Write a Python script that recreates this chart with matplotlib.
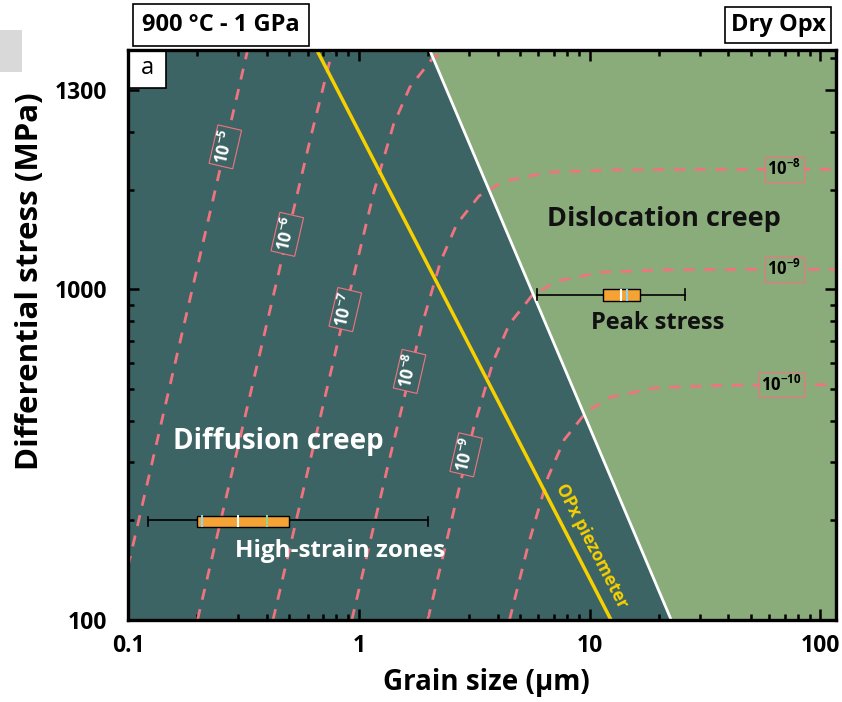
import matplotlib
matplotlib.use("Agg")
import matplotlib.pyplot as plt
from matplotlib.patches import Rectangle
from matplotlib.ticker import FixedLocator, LogLocator, NullFormatter, FixedFormatter

plt.rcParams['font.family'] = ['Open Sans', 'DejaVu Sans']
plt.rcParams['mathtext.fontset'] = 'custom'
plt.rcParams['mathtext.rm'] = 'Open Sans'
plt.rcParams['mathtext.it'] = 'Open Sans'
plt.rcParams['mathtext.bf'] = 'Open Sans:bold'

# colours
teal = '#3d6464'
green = '#8aab7a'
pink = '#f07480'
yellow = '#f7d000'
orange = '#f5a334'

# field boundary between diffusion and dislocation creep (grain size um, stress MPa)
bound_d = [2.03, 22.6]
bound_s = [5300, 100]

# OPx piezometer
piezo_d = [0.658, 12.4]
piezo_s = [5300, 100]

# strain-rate contours (s^-1)
c5_d = [0.1, 0.33]
c5_s = [145, 5300]
c6_d = [0.2, 0.46, 0.62, 0.77]
c6_s = [100, 1200, 2900, 5300]
c7_d = [0.425, 0.832, 1.165, 1.414, 1.664, 2.08, 2.38]
c7_s = [100, 747, 1980, 3150, 4090, 4980, 5300]
c8_d = [0.933, 1.33, 1.86, 2.26, 2.66, 3.32, 4.25, 6.64, 13.3, 120]
c8_s = [100, 288, 762, 1213, 1576, 1917, 2123, 2262, 2303, 2310]
c9_d = [1.99, 2.25, 3.14, 3.82, 4.49, 5.61, 7.18, 11.2, 22.4, 120]
c9_s = [100, 143, 380, 604, 785, 955, 1058, 1127, 1148, 1151]
c10_d = [4.5, 5.44, 6.6, 7.77, 9.71, 12.4, 19.4, 38.9, 120]
c10_s = [100, 170, 270, 351, 427, 473, 504, 513, 515]
contours = [(c5_d, c5_s), (c6_d, c6_s), (c7_d, c7_s),
            (c8_d, c8_s), (c9_d, c9_s), (c10_d, c10_s)]

# contour labels
diff_lab = [r'$\mathbf{10^{-5}}$', r'$\mathbf{10^{-6}}$', r'$\mathbf{10^{-7}}$',
            r'$\mathbf{10^{-8}}$', r'$\mathbf{10^{-9}}$']
diff_lab_d = [0.264, 0.49, 0.874, 1.66, 2.92]
diff_lab_s = [2700, 1468, 869, 565, 316]
disl_lab = [r'$\mathbf{10^{-8}}$', r'$\mathbf{10^{-9}}$', r'$\mathbf{10^{-10}}$']
disl_lab_d = [70, 70, 68]
disl_lab_s = [2310, 1151, 515]

# grain size / stress data (box + whiskers)
hsz_whisk = [0.122, 2.0]
hsz_box = [0.2, 0.5]
hsz_stress = [191, 200, 207]
hsz_marks = [0.21, 0.3, 0.4]
hsz_mark_col = ['#8fd3f0', 'white', '#9ad08a']

peak_whisk = [5.9, 26.0]
peak_box = [11.4, 16.5]
peak_stress = [925, 963, 1003]
peak_marks = [13.7, 14.5]
peak_mark_col = ['white', '#8fd3f0']

xmin, xmax = 0.1, 117
ymin, ymax = 100, 5300

fig = plt.figure(figsize=(8.42, 7.02), dpi=100)
ax = fig.add_axes([128/842, 1-620/702, 708/842, 570/702])
ax.set_xscale('log')
ax.set_yscale('log')
ax.set_xlim(xmin, xmax)
ax.set_ylim(ymin, ymax)
ax.set_facecolor(teal)

# dislocation creep field
ax.fill(bound_d + [xmax, xmax], bound_s + [ymin, ymax], color=green, lw=0, zorder=1)

for d, s in contours:
    ax.plot(d, s, color=pink, lw=2, ls=(0, (4, 3.5)), zorder=2)

ax.plot(bound_d, bound_s, color='white', lw=2, zorder=3)
ax.plot(piezo_d, piezo_s, color=yellow, lw=2.5, zorder=3)

for t, x, y in zip(diff_lab, diff_lab_d, diff_lab_s):
    ax.text(x, y, t, color='white', fontsize=12.5, rotation=77, ha='center', va='center',
            rotation_mode='anchor', zorder=4,
            bbox=dict(boxstyle='square,pad=0.12', fc=teal, ec=pink, lw=0.8))
for t, x, y in zip(disl_lab, disl_lab_d, disl_lab_s):
    ax.text(x, y, t, color='black', fontsize=12, ha='center', va='center', zorder=4,
            bbox=dict(boxstyle='square,pad=0.15', fc=green, ec=pink, lw=0.8))


def boxplot(whisk, box, st, marks, cols):
    ax.plot(whisk, [st[1], st[1]], color='black', lw=1.2, zorder=5)
    for w in whisk:
        ax.plot([w, w], [st[0] + 1.5, st[2] - 1.5], color='black', lw=1.2, zorder=5)
    ax.fill_between(box, st[0], st[2], color=orange, ec='black', lw=1, zorder=6)
    for m, c in zip(marks, cols):
        ax.plot([m, m], [st[0] * 1.005, st[2] / 1.005], color=c, lw=1.5, zorder=7)


boxplot(hsz_whisk, hsz_box, hsz_stress, hsz_marks, hsz_mark_col)
boxplot(peak_whisk, peak_box, peak_stress, peak_marks, peak_mark_col)

ax.text(21.1, 1630, 'Dislocation creep', fontsize=19.5, fontweight='bold',
        color='#111111', ha='center', va='center', zorder=8)
ax.text(19.7, 794, 'Peak stress', fontsize=17, fontweight='bold',
        color='#111111', ha='center', va='center', zorder=8)
ax.text(0.446, 346, 'Diffusion creep', fontsize=20, fontweight='bold',
        color='white', ha='center', va='center', zorder=8)
ax.text(0.827, 162, 'High-strain zones', fontsize=17.5, fontweight='bold',
        color='white', ha='center', va='center', zorder=8)
ax.text(10.2, 168, 'OPx piezometer', fontsize=12.5, fontweight='bold',
        color=yellow, ha='center', va='center', rotation=-62.6,
        rotation_mode='anchor', zorder=8)

# panel letter
ax.add_patch(Rectangle((0, 1 - 38/570), 38/708, 38/570, transform=ax.transAxes,
                       fc='white', ec='black', lw=1.2, zorder=9, clip_on=False))
ax.text(19/708, 1 - 18/570, 'a', transform=ax.transAxes, fontsize=17,
        ha='center', va='center', zorder=10)

# ticks
ax.xaxis.set_major_locator(FixedLocator([0.1, 1, 10, 100]))
ax.xaxis.set_major_formatter(FixedFormatter(['0.1', '1', '10', '100']))
ax.xaxis.set_minor_locator(LogLocator(base=10, subs=range(2, 10)))
ax.xaxis.set_minor_formatter(NullFormatter())
ax.yaxis.set_major_locator(FixedLocator([100, 1000, 4000]))
ax.yaxis.set_major_formatter(FixedFormatter(['100', '1000', '1300']))
ax.yaxis.set_minor_locator(LogLocator(base=10, subs=range(2, 10)))
ax.yaxis.set_minor_formatter(NullFormatter())
ax.tick_params(which='both', direction='in', top=True, right=True, width=1.8,
               color='black')
ax.tick_params(which='major', length=8, labelsize=16.5)
ax.tick_params(axis='x', which='major', pad=10)
ax.tick_params(axis='y', which='major', pad=15)
ax.tick_params(which='minor', length=4.5)
for lab in ax.get_xticklabels() + ax.get_yticklabels():
    lab.set_fontweight('bold')
for sp in ax.spines.values():
    sp.set_linewidth(2.4)
    sp.set_zorder(11)

ax.set_xlabel('Grain size (µm)', fontsize=20, fontweight='bold')
ax.xaxis.set_label_coords(0.506, -0.085)
ax.set_ylabel('Differential stress (MPa)', fontsize=22.5, fontweight='bold')
ax.yaxis.set_label_coords(-0.117, 0.594)

# header boxes
fig.text(221/842, 1 - 25/702, '900 °C - 1 GPa', fontsize=17, fontweight='bold',
         ha='center', va='center',
         bbox=dict(boxstyle='square,pad=0.4', fc='white', ec='black', lw=1.2))
fig.text(778/842, 1 - 25/702, 'Dry Opx', fontsize=17, fontweight='bold',
         ha='center', va='center',
         bbox=dict(boxstyle='square,pad=0.25', fc='white', ec='black', lw=1.2))
fig.patches.append(Rectangle((0, 1 - 72/702), 22/842, 42/702, transform=fig.transFigure,
                             fc='#d9d9d9', ec='none'))

fig.savefig('out.png', dpi=100)
